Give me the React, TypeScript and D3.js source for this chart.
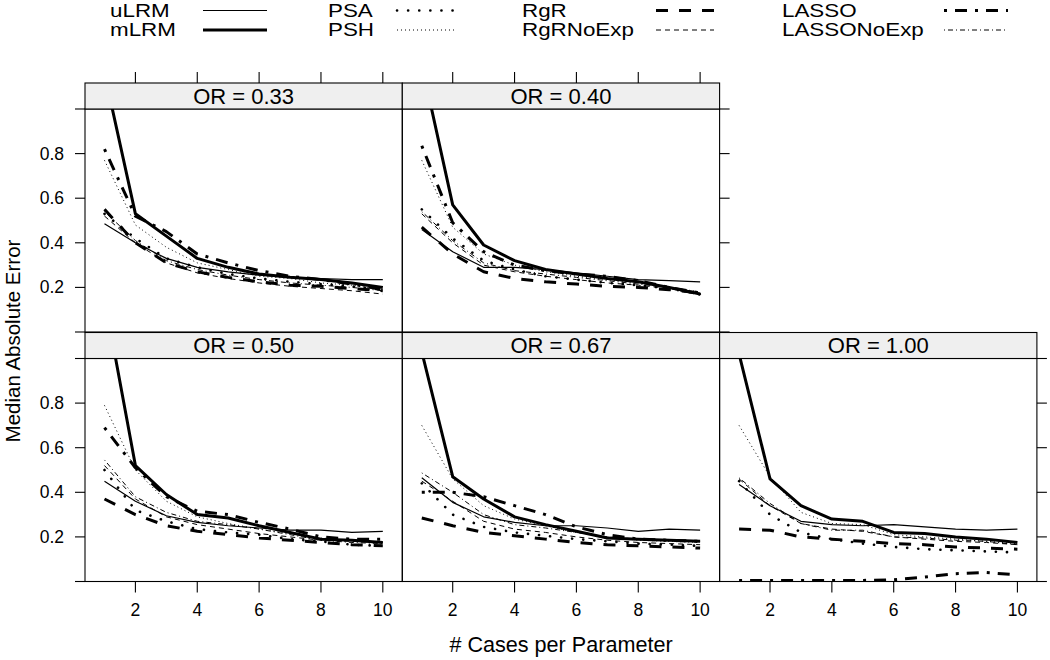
import React from "react";
import * as d3 from "d3";

// ---------- data ----------
const ORs = ["0.33", "0.40", "0.50", "0.67", "1.00"];
const casesPerParam = [1, 2, 3, 4, 5, 6, 7, 8, 9, 10];
const xTicks = [2, 4, 6, 8, 10];
const yTicks = [0, 0.2, 0.4, 0.6, 0.8, 1.0];
const yTickLabels = ["", "0.2", "0.4", "0.6", "0.8", ""];
const methods = ["uLRM", "mLRM", "PSA", "PSH", "RgR", "RgRNoExp", "LASSO", "LASSONoExp"];

// each row = one OR panel (0.33, 0.40, 0.50, 0.67, 1.00), 10 values for cases 1..10
const uLRM = [
  [0.485, 0.40, 0.33, 0.29, 0.27, 0.255, 0.245, 0.24, 0.235, 0.235],
  [0.46, 0.36, 0.29, 0.29, 0.28, 0.265, 0.25, 0.235, 0.23, 0.225],
  [0.45, 0.36, 0.295, 0.265, 0.25, 0.24, 0.23, 0.23, 0.22, 0.225],
  [0.465, 0.355, 0.29, 0.265, 0.25, 0.25, 0.24, 0.225, 0.235, 0.23],
  [0.435, 0.34, 0.27, 0.255, 0.25, 0.255, 0.245, 0.235, 0.23, 0.235],
];
const mLRM = [
  [1.16, 0.53, 0.43, 0.33, 0.29, 0.26, 0.245, 0.235, 0.22, 0.2],
  [1.2, 0.57, 0.39, 0.32, 0.28, 0.26, 0.24, 0.225, 0.2, 0.17],
  [1.27, 0.52, 0.39, 0.3, 0.285, 0.25, 0.22, 0.19, 0.185, 0.175],
  [1.03, 0.47, 0.37, 0.29, 0.255, 0.225, 0.195, 0.19, 0.185, 0.18],
  [1.02, 0.46, 0.34, 0.28, 0.27, 0.22, 0.215, 0.2, 0.19, 0.175],
];
const PSA = [
  [0.53, 0.42, 0.33, 0.29, 0.26, 0.24, 0.225, 0.215, 0.205, 0.19],
  [0.55, 0.42, 0.32, 0.28, 0.25, 0.235, 0.22, 0.21, 0.195, 0.17],
  [0.5, 0.32, 0.27, 0.235, 0.22, 0.21, 0.19, 0.18, 0.165, 0.16],
  [0.44, 0.3, 0.245, 0.22, 0.205, 0.19, 0.18, 0.17, 0.165, 0.16],
  [0.45, 0.3, 0.22, 0.19, 0.17, 0.155, 0.145, 0.14, 0.135, 0.13],
];
const PSH = [
  [0.77, 0.48, 0.38, 0.31, 0.28, 0.25, 0.24, 0.22, 0.21, 0.19],
  [0.77, 0.47, 0.35, 0.3, 0.27, 0.25, 0.235, 0.22, 0.2, 0.18],
  [0.79, 0.5, 0.36, 0.29, 0.26, 0.235, 0.215, 0.195, 0.185, 0.175],
  [0.7, 0.46, 0.34, 0.28, 0.25, 0.22, 0.2, 0.185, 0.18, 0.175],
  [0.7, 0.47, 0.31, 0.26, 0.255, 0.21, 0.2, 0.19, 0.18, 0.17],
];
const RgR = [
  [0.55, 0.4, 0.31, 0.27, 0.245, 0.225, 0.21, 0.205, 0.195, 0.185],
  [0.47, 0.35, 0.27, 0.24, 0.225, 0.215, 0.205, 0.2, 0.19, 0.175],
  [0.37, 0.3, 0.25, 0.225, 0.21, 0.195, 0.185, 0.175, 0.165, 0.16],
  [0.285, 0.25, 0.22, 0.205, 0.19, 0.175, 0.165, 0.16, 0.155, 0.15],
  [0.235, 0.23, 0.2, 0.19, 0.18, 0.17, 0.165, 0.155, 0.15, 0.145],
];
const RgRNoExp = [
  [0.52, 0.4, 0.31, 0.265, 0.24, 0.22, 0.205, 0.195, 0.185, 0.17],
  [0.53, 0.4, 0.3, 0.27, 0.25, 0.235, 0.22, 0.21, 0.195, 0.165],
  [0.52, 0.37, 0.29, 0.255, 0.235, 0.215, 0.2, 0.185, 0.18, 0.175],
  [0.45, 0.36, 0.27, 0.235, 0.22, 0.2, 0.185, 0.175, 0.17, 0.165],
  [0.46, 0.34, 0.26, 0.235, 0.225, 0.2, 0.19, 0.18, 0.175, 0.165],
];
const LASSO = [
  [0.82, 0.52, 0.45, 0.35, 0.31, 0.275, 0.25, 0.235, 0.215, 0.19],
  [0.835, 0.49, 0.36, 0.3, 0.275, 0.26, 0.25, 0.23, 0.2, 0.175],
  [0.69, 0.51, 0.38, 0.315, 0.3, 0.265, 0.235, 0.2, 0.19, 0.19],
  [0.4, 0.4, 0.38, 0.34, 0.3, 0.245, 0.21, 0.19, 0.185, 0.18],
  [0.005, 0.005, 0.005, 0.005, 0.005, 0.008, 0.02, 0.035, 0.04, 0.03],
];
const LASSONoExp = [
  [0.54, 0.41, 0.32, 0.28, 0.255, 0.235, 0.22, 0.21, 0.2, 0.185],
  [0.54, 0.41, 0.31, 0.275, 0.26, 0.245, 0.23, 0.215, 0.2, 0.17],
  [0.545, 0.38, 0.31, 0.27, 0.255, 0.235, 0.21, 0.185, 0.175, 0.17],
  [0.487, 0.4, 0.3, 0.255, 0.24, 0.22, 0.2, 0.19, 0.185, 0.18],
  [0.465, 0.35, 0.26, 0.23, 0.23, 0.2, 0.195, 0.185, 0.18, 0.165],
];

const seriesValues: Record<string, number[][]> = {
  uLRM, mLRM, PSA, PSH, RgR, RgRNoExp, LASSO, LASSONoExp,
};

// ---------- styles ----------
type LS = { w: number; dash: string; cap: string };
const lineStyles: Record<string, LS> = {
  uLRM: { w: 1.2, dash: "none", cap: "butt" },
  mLRM: { w: 3, dash: "none", cap: "butt" },
  PSA: { w: 2.6, dash: "0.1 11", cap: "round" },
  PSH: { w: 1, dash: "1 3", cap: "butt" },
  RgR: { w: 3, dash: "12 11", cap: "butt" },
  RgRNoExp: { w: 1, dash: "5 4", cap: "butt" },
  LASSO: { w: 3, dash: "3 8 12 8", cap: "butt" },
  LASSONoExp: { w: 1, dash: "1 3 5 3", cap: "butt" },
};

const FONT = "'Liberation Sans', Arial, Helvetica, sans-serif";
const W = 1050;
const H = 660;
const LEFT0 = 85;
const PANEL_W = 317.3;
const STRIP_TOP0 = 83;
const STRIP_H = 26;
const PLOT_H = 223;
const ROW_STEP = 249.5;

const panelPos = [
  { row: 0, col: 0 },
  { row: 0, col: 1 },
  { row: 1, col: 0 },
  { row: 1, col: 1 },
  { row: 1, col: 2 },
];

const legendTextX = [110, 328, 522, 782];
const legendLineX = [
  [203, 267],
  [397, 455],
  [656, 714],
  [944, 1008],
];
const legendRowY = [10.5, 30];

export default function App() {
  const panels = ORs.map((or, i) => {
    const { row, col } = panelPos[i];
    const left = LEFT0 + col * PANEL_W;
    const stripTop = STRIP_TOP0 + row * ROW_STEP;
    const plotTop = stripTop + STRIP_H;
    const plotBottom = plotTop + PLOT_H;
    const x = d3.scaleLinear().domain([0.37, 10.63]).range([left, left + PANEL_W]);
    const y = d3.scaleLinear().domain([0, 1]).range([plotBottom, plotTop]);
    const line = d3
      .line<number>()
      .x((_, k) => x(casesPerParam[k]))
      .y((v) => y(v));
    const isLeft = col === 0;
    const isRight = (row === 0 && col === 1) || (row === 1 && col === 2);
    const isTop = row === 0;
    const isBottom = row === 1;
    return (
      <g key={or}>
        <defs>
          <clipPath id={`clip${i}`}>
            <rect x={left} y={plotTop} width={PANEL_W} height={PLOT_H} />
          </clipPath>
        </defs>
        <g clipPath={`url(#clip${i})`}>
          {methods.map((m) => {
            const s = lineStyles[m];
            return (
              <path
                key={m}
                d={line(seriesValues[m][i]) || ""}
                fill="none"
                stroke="#000"
                strokeWidth={s.w}
                strokeDasharray={s.dash}
                strokeLinecap={s.cap as any}
                strokeLinejoin="round"
              />
            );
          })}
        </g>
        <rect x={left} y={plotTop} width={PANEL_W} height={PLOT_H} fill="none" stroke="#000" strokeWidth={1.1} />
        <rect x={left} y={stripTop} width={PANEL_W} height={STRIP_H} fill="#efefef" stroke="#000" strokeWidth={1.1} />
        <text
          x={left + PANEL_W / 2}
          y={stripTop + STRIP_H / 2}
          textAnchor="middle"
          dominantBaseline="central"
          fontSize={22}
          fontFamily={FONT}
        >
          {`OR = ${or}`}
        </text>
        {isLeft &&
          yTicks.map((t, k) => (
            <g key={`l${k}`}>
              <line x1={left - 10} x2={left} y1={y(t)} y2={y(t)} stroke="#000" strokeWidth={1.1} />
              {yTickLabels[k] && (
                <text x={left - 21} y={y(t)} textAnchor="end" dominantBaseline="central" fontSize={17.5} fontFamily={FONT}>
                  {yTickLabels[k]}
                </text>
              )}
            </g>
          ))}
        {isRight &&
          yTicks.map((t, k) => (
            <line key={`r${k}`} x1={left + PANEL_W} x2={left + PANEL_W + 10} y1={y(t)} y2={y(t)} stroke="#000" strokeWidth={1.1} />
          ))}
        {isTop &&
          xTicks.map((t) => (
            <line key={`t${t}`} x1={x(t)} x2={x(t)} y1={stripTop - 11} y2={stripTop} stroke="#000" strokeWidth={1.1} />
          ))}
        {isBottom &&
          xTicks.map((t) => (
            <g key={`b${t}`}>
              <line x1={x(t)} x2={x(t)} y1={plotBottom} y2={plotBottom + 11} stroke="#000" strokeWidth={1.1} />
              <text x={x(t)} y={616} textAnchor="middle" fontSize={17.5} fontFamily={FONT}>
                {t}
              </text>
            </g>
          ))}
      </g>
    );
  });

  const legend = methods.map((m, k) => {
    const col = Math.floor(k / 2);
    const row = k % 2;
    const s = lineStyles[m];
    const yy = legendRowY[row];
    return (
      <g key={m}>
        <text
          transform={`translate(${legendTextX[col]},${yy}) scale(1.28,1)`}
          dominantBaseline="central"
          fontSize={17.5}
          fontFamily={FONT}
        >
          {m}
        </text>
        <line
          x1={legendLineX[col][0]}
          x2={legendLineX[col][1]}
          y1={yy}
          y2={yy}
          stroke="#000"
          strokeWidth={s.w}
          strokeDasharray={s.dash}
          strokeLinecap={s.cap as any}
        />
      </g>
    );
  });

  return (
    <svg
      width={W}
      height={H}
      viewBox={`0 0 ${W} ${H}`}
      style={{ position: "absolute", left: 0, top: 0, background: "#fff" }}
    >
      <rect x={0} y={0} width={W} height={H} fill="#fff" />
      {legend}
      {panels}
      <text x={561} y={652} textAnchor="middle" fontSize={21.6} fontFamily={FONT}>
        # Cases per Parameter
      </text>
      <text
        transform="translate(20,341) rotate(-90)"
        textAnchor="middle"
        fontSize={20.5}
        fontFamily={FONT}
      >
        Median Absolute Error
      </text>
    </svg>
  );
}
